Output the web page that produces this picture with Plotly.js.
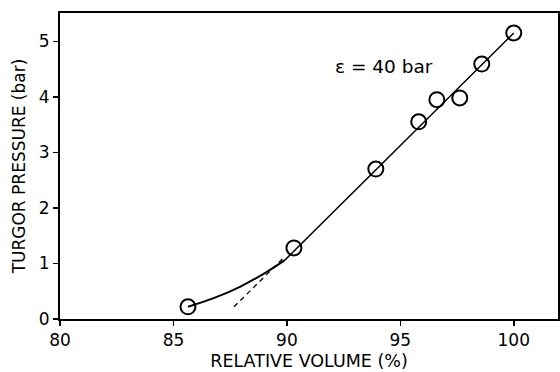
<!DOCTYPE html>
<html>
<head>
<meta charset="utf-8">
<script src="https://cdn.plot.ly/plotly-3.0.1.min.js"></script>
<style>html,body{margin:0;padding:0;background:#fff;}#chart{width:560px;height:372px;}</style>
</head>
<body>
<div id="chart"></div>
<script>
// Measured points
const volume = [85.64, 90.31, 93.92, 95.81, 96.61, 97.62, 98.59, 100.0];
const pressure = [0.22, 1.28, 2.70, 3.55, 3.95, 3.98, 4.59, 5.15];

// Curved low-pressure part of the fit (solid)
const curveX = [85.64, 86.8, 87.93, 89.12, 89.91];
const curveY = [0.22, 0.38, 0.58, 0.85, 1.06];

// Linear part of the fit (solid)
const lineX = [89.91, 100.0];
const lineY = [1.06, 5.15];

// Extrapolation of the linear part (dashed)
const dashX = [87.67, 89.8];
const dashY = [0.22, 1.08];

const xTicks = [80, 85, 90, 95, 100];
const yTicks = [0, 1, 2, 3, 4, 5];
const annotationText = "\u03B5 = 40 bar";

const fontFam = "DejaVu Sans, Arial, sans-serif";

const traces = [
  {x: curveX, y: curveY, mode: 'lines', line: {color: '#000', width: 2, shape: 'spline'}, hoverinfo: 'skip'},
  {x: lineX, y: lineY, mode: 'lines', line: {color: '#000', width: 1.5}, hoverinfo: 'skip'},
  {x: dashX, y: dashY, mode: 'lines', line: {color: '#000', width: 1.3, dash: '5px,4px'}, hoverinfo: 'skip'},
  {x: volume, y: pressure, mode: 'markers',
   marker: {symbol: 'circle-open', size: 15, color: '#000', line: {color: '#000', width: 2}}}
];

const layout = {
  width: 560, height: 372,
  margin: {l: 60, r: 2, t: 13, b: 53},
  paper_bgcolor: '#fff', plot_bgcolor: '#fff',
  showlegend: false,
  font: {family: fontFam, color: '#000'},
  xaxis: {
    range: [80, 101.95], tickvals: xTicks, ticktext: xTicks.map(String),
    ticks: 'outside', ticklen: 5, tickwidth: 1.5, tickcolor: '#000',
    showgrid: false, zeroline: false,
    showline: true, linecolor: '#000', linewidth: 2, mirror: true,
    tickfont: {size: 17, family: fontFam},
    title: {text: 'RELATIVE VOLUME (%)', font: {size: 17.5, family: fontFam}, standoff: 5}
  },
  yaxis: {
    range: [0, 5.51], tickvals: yTicks, ticktext: yTicks.map(String),
    ticks: 'outside', ticklen: 5, tickwidth: 1.5, tickcolor: '#000',
    showgrid: false, zeroline: false,
    showline: true, linecolor: '#000', linewidth: 2, mirror: true,
    tickfont: {size: 17, family: fontFam},
    title: {text: 'TURGOR PRESSURE (bar)', font: {size: 17, family: fontFam}, standoff: 9}
  },
  annotations: [{
    x: 94.27, y: 4.54, xref: 'x', yref: 'y', text: annotationText, showarrow: false,
    font: {size: 18.5, family: fontFam, color: '#000'}
  }]
};

Plotly.newPlot('chart', traces, layout, {displayModeBar: false, staticPlot: true});
</script>
</body>
</html>
